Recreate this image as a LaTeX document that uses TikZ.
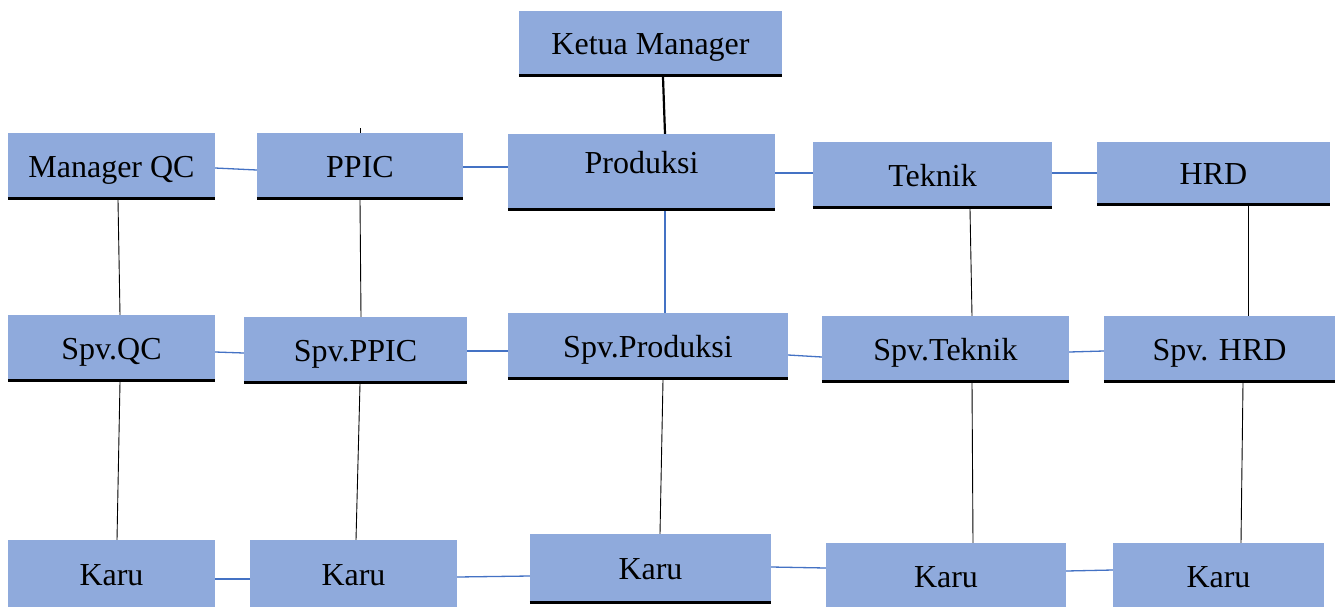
\documentclass[tikz,border=0pt]{standalone}
\usepackage{fontspec}
\setmainfont{Liberation Serif}
\definecolor{boxblue}{RGB}{143,170,220}
\definecolor{lineblue}{RGB}{68,114,196}
\tikzset{
  box/.style={fill=boxblue, draw=none, inner sep=0pt, text height=21pt, text depth=0pt,
    font=\fontsize{32}{38}\selectfont},
  bline/.style={draw=black, line width=3pt},
  vlink/.style={draw=black, line width=0.9pt},
  hlink/.style={draw=lineblue, line width=1.3pt},
}
\begin{document}
\begin{tikzpicture}[x=1pt,y=-1pt]
\useasboundingbox (0,0) rectangle (1339,606);
\clip (0,0) rectangle (1339,606);
% row 0
\node[box, minimum width=263pt, minimum height=66pt] (km) at (650.5,44) {Ketua Manager};
% row 1
\node[box, minimum width=207pt, minimum height=67pt] (mqc) at (111.5,166.5) {Manager QC};
\node[box, minimum width=206pt, minimum height=67pt] (ppic) at (360,166.5) {PPIC};
\node[box, minimum width=267pt, minimum height=77pt] (prod) at (641.5,172.5) {\raisebox{9.5pt}[\height][\depth]{Produksi}};
\node[box, minimum width=239pt, minimum height=67pt] (tek) at (932.5,175.5) {Teknik};
\node[box, minimum width=233pt, minimum height=64pt] (hrd) at (1213.5,174) {HRD};
% row 2
\node[box, minimum width=207pt, minimum height=67pt] (sqc) at (111.5,348.5) {Spv.QC};
\node[box, minimum width=223pt, minimum height=67pt] (sppic) at (355.5,350.5) {Spv.PPIC};
\node[box, minimum width=280pt, minimum height=67pt] (sprod) at (648,346.5) {Spv.Produksi};
\node[box, minimum width=247pt, minimum height=67pt] (stek) at (945.5,349.5) {Spv.Teknik};
\node[box, minimum width=231pt, minimum height=67pt] (shrd) at (1219.5,349.5) {Spv. HRD};
% row 3
\node[box, minimum width=207pt, minimum height=72pt] (k1) at (111.5,576) {\raisebox{1.5pt}[\height][\depth]{Karu}};
\node[box, minimum width=207pt, minimum height=72pt] (k2) at (353.5,576) {\raisebox{1.5pt}[\height][\depth]{Karu}};
\node[box, minimum width=241pt, minimum height=70pt] (k3) at (650.5,569) {Karu};
\node[box, minimum width=240pt, minimum height=71pt] (k4) at (946,578.5) {\raisebox{1.5pt}[\height][\depth]{Karu}};
\node[box, minimum width=211pt, minimum height=71pt] (k5) at (1218.5,578.5) {\raisebox{1.5pt}[\height][\depth]{Karu}};
% bottom borders
\foreach \n in {km,mqc,ppic,prod,tek,hrd,sqc,sppic,sprod,stek,shrd,k3}
  \draw[bline] ([yshift=1.5pt]\n.south west) -- ([yshift=1.5pt]\n.south east);
% vertical links
\coordinate (tk) at (360,128);
\draw[vlink, line width=2.2pt] ([xshift=12.5pt]km.south) -- ([xshift=23.5pt]prod.north);
\draw[vlink] (tk) -- (ppic.north);
\draw[vlink] ([xshift=6.5pt]mqc.south) -- ([xshift=8.5pt]sqc.north);
\draw[vlink] (ppic.south) -- ([xshift=5.5pt]sppic.north);
\draw[hlink] ([xshift=23.5pt]prod.south) -- ([xshift=17pt]sprod.north);
\draw[vlink] ([xshift=37.5pt]tek.south) -- ([xshift=26.5pt]stek.north);
\draw[vlink] ([xshift=34.5pt]hrd.south) -- ([xshift=28.5pt]shrd.north);
\draw[vlink] ([xshift=8.5pt]sqc.south) -- ([xshift=5.5pt]k1.north);
\draw[vlink] ([xshift=4.5pt]sppic.south) -- ([xshift=2.5pt]k2.north);
\draw[vlink] ([xshift=15pt]sprod.south) -- ([xshift=9.5pt]k3.north);
\draw[vlink] ([xshift=26.5pt]stek.south) -- ([xshift=27pt]k4.north);
\draw[vlink] ([xshift=23.5pt]shrd.south) -- ([xshift=22.5pt]k5.north);
% horizontal links
\draw[hlink] ([yshift=-1.5pt]mqc.east) -- ([yshift=-3.5pt]ppic.west);
\draw[hlink] ([yshift=-0.5pt]ppic.east) -- ([yshift=5.5pt]prod.west);
\draw[hlink] ([yshift=-0.5pt]prod.east) -- ([yshift=2.5pt]tek.west);
\draw[hlink] ([yshift=2.5pt]tek.east) -- ([yshift=1pt]hrd.west);
\draw[hlink] ([yshift=-3.5pt]sqc.east) -- ([yshift=-2.5pt]sppic.west);
\draw[hlink] ([yshift=-0.5pt]sppic.east) -- ([yshift=-4.5pt]sprod.west);
\draw[hlink] ([yshift=-8.5pt]sprod.east) -- ([yshift=-7.5pt]stek.west);
\draw[hlink] ([yshift=-2.5pt]stek.east) -- ([yshift=-1.5pt]shrd.west);
\draw[hlink] ([yshift=-3pt]k1.east) -- ([yshift=-3pt]k2.west);
\draw[hlink] ([yshift=-1pt]k2.east) -- ([yshift=-7pt]k3.west);
\draw[hlink] ([yshift=2pt]k3.east) -- ([yshift=10.5pt]k4.west);
\draw[hlink] ([yshift=7.5pt]k4.east) -- ([yshift=8.5pt]k5.west);
\end{tikzpicture}
\end{document}
